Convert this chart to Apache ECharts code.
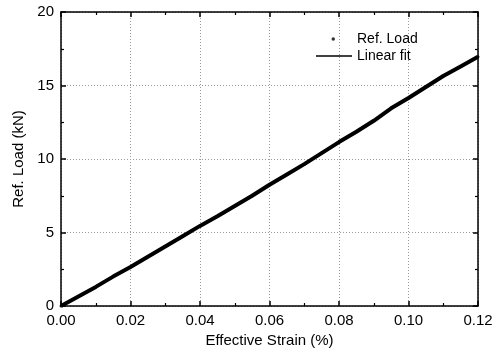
<!DOCTYPE html>
<html>
<head>
<meta charset="utf-8">
<script src="https://cdn.jsdelivr.net/npm/echarts@6/dist/echarts.min.js"></script>
<style>html,body{margin:0;padding:0;background:#fff}#c{width:502px;height:358px}</style>
</head>
<body>
<div id="c"></div>
<script>
const strain = [0, 0.005, 0.01, 0.015, 0.02, 0.025, 0.03, 0.035, 0.04, 0.045, 0.05, 0.055, 0.06, 0.065, 0.07, 0.075, 0.08, 0.085, 0.09, 0.095, 0.10, 0.105, 0.11, 0.115, 0.12];
const refLoad = [0, 0.65, 1.3, 2.0, 2.65, 3.35, 4.05, 4.75, 5.45, 6.1, 6.8, 7.5, 8.25, 8.95, 9.65, 10.4, 11.15, 11.85, 12.6, 13.45, 14.15, 14.9, 15.65, 16.3, 16.95];
const xTicks = ['0.00', '0.02', '0.04', '0.06', '0.08', '0.10', '0.12'];
const yTicks = ['0', '5', '10', '15', '20'];

const pts = strain.map((s, i) => [s, refLoad[i]]);
const font = 'Liberation Sans, Arial, sans-serif';
const chart = echarts.init(document.getElementById('c'), null, {renderer: 'canvas'});

const boxAxisBase = {
  axisLine: {show: true, onZero: false, lineStyle: {color: '#000', width: 1.5}},
  axisTick: {show: true, inside: true, length: 5, lineStyle: {color: '#000', width: 1.5}},
  minorTick: {show: true, splitNumber: 2, length: 3, lineStyle: {color: '#000', width: 1.2}}
};

chart.setOption({
  animation: false,
  backgroundColor: '#fff',
  grid: {left: 61, right: 24, top: 12, bottom: 52},
  legend: [
    {
      left: 331.5, top: 32, itemWidth: 3.5, itemHeight: 3.5, padding: 0,
      data: [{name: 'Ref. Load', icon: 'circle'}],
      textStyle: {fontFamily: font, fontSize: 14, color: '#000', padding: [0, 0, 0, 17]}
    },
    {
      left: 316, top: 49, itemWidth: 36, itemHeight: 1.5, padding: 0,
      data: [{name: 'Linear fit', icon: 'rect'}],
      textStyle: {fontFamily: font, fontSize: 14, color: '#000'}
    }
  ],
  xAxis: [
    Object.assign({}, boxAxisBase, {
      type: 'value', position: 'bottom', min: 0, max: 0.12, interval: 0.02,
      name: 'Effective Strain (%)', nameLocation: 'middle', nameGap: 22,
      nameTextStyle: {fontFamily: font, fontSize: 15, color: '#000'},
      axisLabel: {margin: 7, fontFamily: font, fontSize: 15, color: '#000',
        formatter: (v) => xTicks[Math.round(v / 0.02)] ?? ''},
      splitLine: {show: true, lineStyle: {color: '#999', type: [1, 2], width: 1}}
    }),
    Object.assign({}, boxAxisBase, {
      type: 'value', position: 'top', min: 0, max: 0.12, interval: 0.02,
      axisLabel: {show: false}, splitLine: {show: false}
    })
  ],
  yAxis: [
    Object.assign({}, boxAxisBase, {
      type: 'value', position: 'left', min: 0, max: 20, interval: 5,
      name: 'Ref. Load (kN)', nameLocation: 'middle', nameGap: 30, nameRotate: 90,
      nameTextStyle: {fontFamily: font, fontSize: 15, color: '#000'},
      axisLabel: {margin: 7, fontFamily: font, fontSize: 15, color: '#000',
        formatter: (v) => yTicks[Math.round(v / 5)] ?? ''},
      splitLine: {show: true, lineStyle: {color: '#999', type: [1, 2], width: 1}}
    }),
    Object.assign({}, boxAxisBase, {
      type: 'value', position: 'right', min: 0, max: 20, interval: 5,
      axisLabel: {show: false}, splitLine: {show: false}
    })
  ],
  series: [
    {
      name: 'Ref. Load', type: 'scatter', xAxisIndex: 0, yAxisIndex: 0,
      data: pts, symbol: 'circle', symbolSize: 3,
      itemStyle: {color: '#000'}
    },
    {
      name: 'Linear fit', type: 'line', xAxisIndex: 0, yAxisIndex: 0,
      data: pts, showSymbol: false, symbol: 'none', smooth: false,
      lineStyle: {color: '#000', width: 4},
      itemStyle: {color: '#000'}
    }
  ]
});
</script>
</body>
</html>
